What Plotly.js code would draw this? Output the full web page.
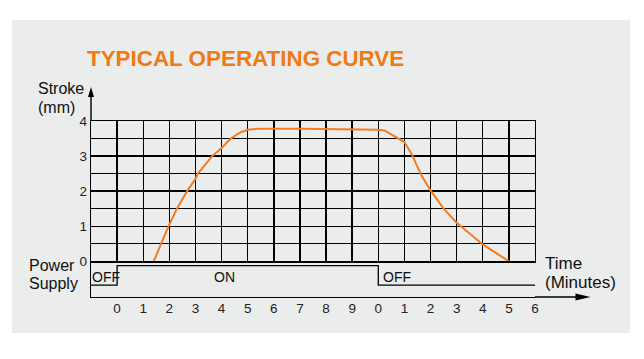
<!DOCTYPE html>
<html>
<head>
<meta charset="utf-8">
<script src="https://cdn.plot.ly/plotly-3.0.1.min.js"></script>
<style>
  html, body { margin: 0; padding: 0; background: #ffffff; }
  #panel { position: absolute; left: 12px; top: 20px; width: 618px; height: 313px; background: #ebecec; }
  #chart { position: absolute; left: 0; top: 0; width: 644px; height: 359px; }
</style>
</head>
<body>
<div id="panel"></div>
<div id="chart"></div>
<script>
// ---- data ----
const timeTickVals = [0, 1, 2, 3, 4, 5, 6, 7, 8, 9, 10, 11, 12, 13, 14, 15, 16];
const timeTickText = ['0', '1', '2', '3', '4', '5', '6', '7', '8', '9', '0', '1', '2', '3', '4', '5', '6'];
const strokeTicks = [0, 1, 2, 3, 4];

// elapsed minutes (power ON at 0, OFF at 10) and stroke in mm
const strokeTime = [1.40, 1.68, 1.97, 2.29, 2.68, 3.0, 3.09, 3.64, 4.0, 4.35, 4.73, 5.0, 5.4, 7.0, 9.0, 10.0, 10.24, 11.0, 11.27, 11.65, 12.0, 12.5, 13.0, 13.58, 14.0, 15.0];
const strokeMm   = [0.00, 0.50, 1.00, 1.50, 2.00, 2.35, 2.50, 3.00, 3.23, 3.50, 3.68, 3.75, 3.78, 3.78, 3.77, 3.75, 3.73, 3.40, 3.07, 2.45, 2.02, 1.50, 1.10, 0.74, 0.48, 0.00];

// power supply state trace (OFF low / ON high)
const powerTime  = [-1, 0, 10, 16];
const powerLevel = [-0.67, -0.12, -0.67, -0.67];

// ---- layout helpers (pixel -> paper) ----
const W = 644, H = 359, ML = 91, MR = 109, MT = 121, MB = 62;
const PW = W - ML - MR, PH = H - MT - MB;
const px = x => (x - ML) / PW;
const py = y => (H - MB - y) / PH;
const gridBottomFrac = py(261.3);

const txtFont = { family: 'Liberation Sans, Arial, sans-serif', size: 16, color: '#111111' };
const bigFont = { family: 'Liberation Sans, Arial, sans-serif', size: 17, color: '#111111' };
const tickFont = { family: 'Liberation Sans, Arial, sans-serif', size: 13.5, color: '#222222' };
const smallFont = { family: 'Liberation Sans, Arial, sans-serif', size: 14, color: '#111111' };

function label(text, x, y, font, xanchor) {
  return { text: text, xref: 'paper', yref: 'paper', x: px(x), y: py(y), xanchor: xanchor || 'left', yanchor: 'middle', showarrow: false, font: font, borderpad: 0 };
}

const traces = [
  { x: strokeTime, y: strokeMm, xaxis: 'x', yaxis: 'y', mode: 'lines', line: { color: '#f47c20', width: 2 }, hoverinfo: 'skip' },
  { x: powerTime, y: powerLevel, xaxis: 'x2', yaxis: 'y2', mode: 'lines', line: { color: '#000000', width: 1.3, shape: 'hv' }, hoverinfo: 'skip' }
];

const layout = {
  width: W, height: H,
  margin: { l: ML, r: MR, t: MT, b: MB, pad: 0 },
  paper_bgcolor: 'rgba(0,0,0,0)', plot_bgcolor: 'rgba(0,0,0,0)',
  showlegend: false,
  title: {
    text: 'TYPICAL OPERATING CURVE',
    font: { family: 'Liberation Sans, Arial, sans-serif', size: 22.4, color: '#f07a14', weight: 'bold' },
    xref: 'container', yref: 'container', x: 87 / W, y: 1 - 58.5 / H, xanchor: 'left', yanchor: 'middle'
  },
  xaxis: {
    domain: [0, 1], anchor: 'y', range: [-1, 16], dtick: 1, tick0: 0,
    showgrid: true, gridcolor: '#000000', gridwidth: 1.4, zeroline: false,
    showline: true, mirror: true, linecolor: '#000000', linewidth: 1.4,
    showticklabels: false, ticks: ''
  },
  yaxis: {
    domain: [gridBottomFrac, 1], anchor: 'x', range: [0, 4],
    tickvals: strokeTicks, ticktext: strokeTicks.map(String),
    showgrid: true, gridcolor: '#000000', gridwidth: 1.4, zeroline: false,
    minor: { dtick: 0.5, showgrid: true, gridcolor: '#000000', gridwidth: 1.4 },
    showline: true, mirror: true, linecolor: '#000000', linewidth: 1.4,
    ticks: '', tickfont: tickFont
  },
  xaxis2: {
    domain: [0, 1], anchor: 'y2', range: [-1, 16],
    tickvals: timeTickVals, ticktext: timeTickText,
    showgrid: false, zeroline: false, showline: true, linecolor: '#000000', linewidth: 1.4,
    ticks: '', tickfont: tickFont, ticklabelstandoff: -2
  },
  yaxis2: {
    domain: [0, gridBottomFrac], anchor: 'x2', range: [-1, 0],
    showgrid: false, zeroline: false, showline: true, linecolor: '#000000', linewidth: 1.4,
    showticklabels: false, ticks: ''
  },
  shapes: [
    // y axis arrow
    { type: 'line', xref: 'paper', yref: 'paper', x0: 0, x1: 0, y0: 1, y1: py(92), line: { color: '#000000', width: 1.4 } },
    { type: 'path', xref: 'paper', yref: 'paper', xsizemode: 'pixel', ysizemode: 'pixel', xanchor: 0, yanchor: py(87), path: 'M0,0 L-3,-10 L3,-10 Z', fillcolor: '#000000', line: { width: 0 } },
    // x axis arrow
    { type: 'line', xref: 'paper', yref: 'paper', x0: 1, x1: px(580), y0: 0, y1: 0, line: { color: '#000000', width: 1.4 } },
    { type: 'path', xref: 'paper', yref: 'paper', xsizemode: 'pixel', ysizemode: 'pixel', xanchor: px(590.5), yanchor: 0, path: 'M0,0 L-15,3.5 L-15,-3.5 Z', fillcolor: '#000000', line: { width: 0 } }
  ],
  annotations: [
    label('Stroke', 36.5, 88.5, txtFont),
    label('(mm)', 36.5, 107, txtFont),
    label('Power', 28, 265.2, txtFont),
    label('Supply', 28, 283.7, txtFont),
    label('Time', 544, 263.5, bigFont),
    label('(Minutes)', 544, 282.7, bigFont),
    { text: 'OFF', xref: 'x2', yref: 'y2', x: -1, y: -0.43, xanchor: 'left', yanchor: 'middle', showarrow: false, font: smallFont, borderpad: 0 },
    { text: 'ON', xref: 'x2', yref: 'y2', x: 4.1, y: -0.43, xanchor: 'center', yanchor: 'middle', showarrow: false, font: smallFont, borderpad: 0 },
    { text: 'OFF', xref: 'x2', yref: 'y2', x: 10.15, y: -0.43, xanchor: 'left', yanchor: 'middle', showarrow: false, font: smallFont, borderpad: 0 }
  ]
};

Plotly.newPlot('chart', traces, layout, { staticPlot: true, displayModeBar: false });
</script>
</body>
</html>
